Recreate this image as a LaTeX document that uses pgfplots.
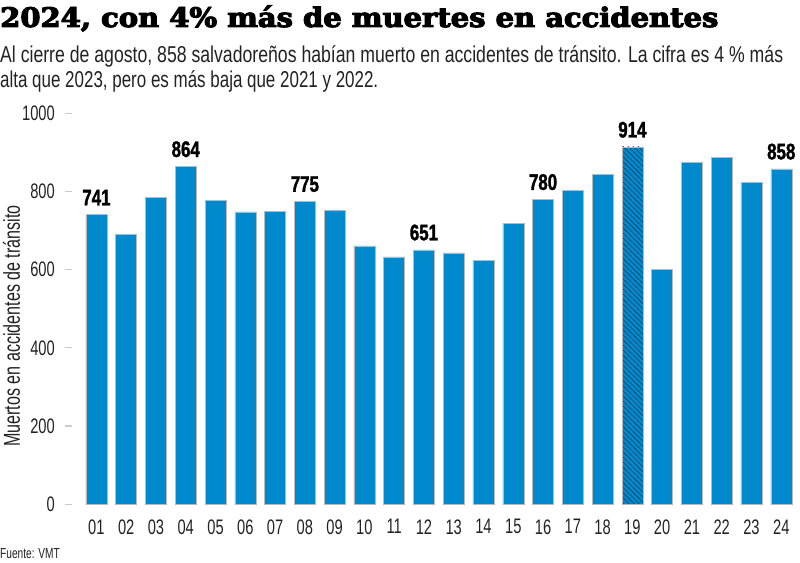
\documentclass[border=0pt]{standalone}
\usepackage{pgfplots}
\pgfplotsset{compat=1.18}
\usepackage{fontspec}
\usepackage{graphicx}
\usetikzlibrary{patterns.meta}
\setmainfont{Liberation Sans}
\newfontfamily\cond[FakeStretch=0.7]{Liberation Sans}
\newfontfamily\condb[FakeStretch=0.75,FakeBold=1.5]{Liberation Sans Bold}
\newfontfamily\titlef[FakeBold=3.5,FakeStretch=0.85]{DejaVu Serif Bold}
\definecolor{barblue}{HTML}{0089CC}
\definecolor{hatch}{HTML}{1F3F5F}
\definecolor{txt}{HTML}{222222}
\begin{document}
\begin{tikzpicture}[x=1pt,y=1pt]
\useasboundingbox (0,0) rectangle (800,562);
% title
\node[anchor=base west,inner sep=0pt] at (0,535) {\resizebox{718pt}{20pt}{\titlef\smash{2024, con 4\% más de muertes en accidentes}\vphantom{0}}};
\node[anchor=base west,inner sep=0pt,text=txt] at (0,499.3) {\resizebox{783pt}{16pt}{\cond\smash{Al cierre de agosto, 858 salvadoreños habían muerto en accidentes de tránsito. La cifra es 4 \% más}\vphantom{0}}};
\node[anchor=base west,inner sep=0pt,text=txt] at (0,474.7) {\resizebox{378pt}{16pt}{\cond\smash{alta que 2023, pero es más baja que 2021 y 2022.}\vphantom{0}}};
% y label
\node[rotate=90,anchor=base,inner sep=0pt,text=txt] at (20,236) {\fontsize{23}{26}\cond Muertos en accidentes de tránsito};
% source
\node[anchor=base west,inner sep=0pt,text=txt] at (0,4) {\fontsize{14.5}{16}\cond Fuente: VMT};
\begin{axis}[
  at={(72pt,57.7pt)}, anchor=south west,
  scale only axis, width=728pt, height=391pt,
  xmin=-0.82, xmax=23.63, ymin=0, ymax=1000,
  enlargelimits=false,
  axis line style={draw=none},
  ybar, bar width=21pt, bar shift=0pt,
  xtick={0,...,23},
  xticklabels={01,02,03,04,05,06,07,08,09,10,11,12,13,14,15,16,17,18,19,20,21,22,23,24},
  ytick={0,200,400,600,800,1000},
  xtick pos=bottom, ytick pos=left,
  tick align=outside,
  major tick length=7pt,
  xtick style={draw=none},
  ytick style={draw=gray!40, line width=1.2pt},
  /pgf/number format/assume math mode=true,
  /pgf/number format/1000 sep={},
  tick label style={font=\fontsize{21}{24}\cond, text=txt},
  yticklabel style={inner sep=0pt, xshift=-10pt},
  xticklabel style={inner sep=0pt, yshift=-8pt},
  nodes near coords,
  point meta=explicit symbolic,
  every node near coord/.append style={font=\fontsize{22.5}{24}\condb, text=black, inner sep=0pt, anchor=south, yshift=9pt},
]
\addplot[fill=barblue, draw=gray!55, line width=0.5pt] coordinates {
(0,741) [741]
(1,691) []
(2,785) []
(3,864) [864]
(4,777) []
(5,748) []
(6,749) []
(7,775) [775]
(8,751) []
(9,661) []
(10,633) []
(11,651) [651]
(12,643) []
(13,624) []
(14,718) []
(15,780) [780]
(16,802) []
(17,844) []
(19,600) []
(20,875) []
(21,888) []
(22,824) []
(23,858) [858]
};
\addplot[fill=barblue, draw=gray!55, line width=0.5pt,
  postaction={pattern={Lines[angle=-45,distance=3.6pt,line width=0.6pt]}, pattern color=hatch}] coordinates {
(18,914) [914]
};
\end{axis}
\end{tikzpicture}
\end{document}
